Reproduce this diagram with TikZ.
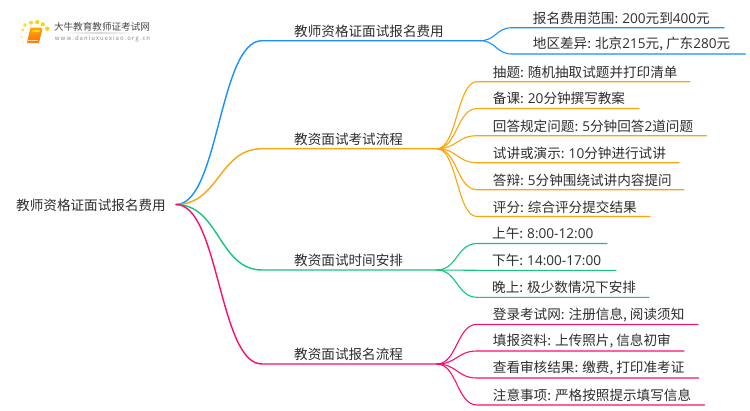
\documentclass[tikz,border=0pt]{standalone}
\usepackage{fontspec}
\setmainfont{Noto Sans CJK SC}
\newfontfamily\latf{Open Sans}
\newcommand{\dg}[1]{{\latf #1}}
\usetikzlibrary{calc}
\definecolor{cblue}{HTML}{1890FF}
\definecolor{corange}{HTML}{FAA50F}
\definecolor{cgreen}{HTML}{17C47C}
\definecolor{cpink}{HTML}{FA0F70}
\definecolor{ctext}{HTML}{2E2E2E}
\tikzset{
  label/.style={anchor=west,inner sep=0pt,text=ctext,font=\fontsize{13.6}{16}\selectfont},
  branch/.style={line width=1.4pt,line cap=round},
  leafline/.style={line width=1.1pt,line cap=round},
}
\begin{document}
\begin{tikzpicture}[x=1pt,y=-1pt]
\useasboundingbox (0,0) rectangle (750,410);
\fill[white] (0,0) rectangle (750,410);
% logo
\foreach \x/\y/\r/\o in {21.7/36.7/1.2/.5,22.7/30/1.6/.7,25/25/1.9/.8,31/22.7/2/.9,37.3/22/2.1/1,42.7/24.3/2/1,47.3/28.7/2.2/1,23.3/42.3/1/.3}
  \fill[yellow!70!orange,opacity=\o] (\x,\y) circle (\r);
\shade[top color=orange!70!yellow,bottom color=orange!90!red,rounded corners=1pt] (30.5,27.5) -- (42,27.5) -- (38.5,42.5) -- (27,42.5) -- cycle;
\fill[orange!40!yellow!90!white] (32.5,30) -- (40,30) -- (39.4,32) -- (32,32) -- cycle;
\draw[orange!30!white,line width=.5pt] (27.5,40.7) -- (38,40.7);
\draw[orange!90!red,line width=.7pt] (27,42.7) -- (38.5,42.7) -- (42,29);
\shade[left color=white,right color=white,middle color=black!15] (62,32.6) rectangle (135,33.4);
\node[inner sep=0pt,anchor=center,text=black!72,font=\fontsize{9.6}{11}\selectfont] (logotitle) at (102,27) {大牛教育教师证考试网};
\node[inner sep=0pt,anchor=center,text=black!45,font=\fontsize{6}{7}\selectfont] (logosub) at (102.5,39) {w\,w\,w\,.\,d\,a\,n\,i\,u\,x\,u\,e\,x\,i\,a\,o\,.\,o\,r\,g\,.\,c\,n};
% root
\node[label] (root) at (16,205.3) {教师资格证面试报名费用};
\coordinate (r) at (176,204.5);
% branches
\foreach \n/\c/\y/\xs/\xe/\t in {
  a/cblue/40.7/262/480/教师资格证面试报名费用,
  b/corange/148.7/262/437/教资面试考试流程,
  c/cgreen/270/262/437/教资面试时间安排,
  d/cpink/364/262/437/教资面试报名流程}{
  \coordinate (\n s) at (\xs,\y);
  \coordinate (\n e) at (\xe,\y);
  \node[label] (\n t) at (294,\y-9.6) {\t};
  \draw[branch,\c] (r) .. controls (219,204.5) and (219,\y) .. (\n s) -- (\n e);
}
% leaves
\foreach \pa/\n/\c/\y/\xs/\xe/\tx/\t in {
  a/1/cblue/27.7/512/724/532.7/报名费用范围: \dg{200}元到\dg{400}元,
  a/2/cblue/54/512/745.6/532.7/{地区差异: 北京\dg{215}元, 广东\dg{280}元},
  b/1/corange/81.7/477/690/492.7/抽题: 随机抽取试题并打印清单,
  b/2/corange/108.5/477/639/492.7/备课: \dg{20}分钟撰写教案,
  b/3/corange/135.7/477/706.5/492.7/回答规定问题: \dg{5}分钟回答\dg{2}道问题,
  b/4/corange/162.7/477/679/492.7/试讲或演示: \dg{10}分钟进行试讲,
  b/5/corange/189.7/477/684/492.7/答辩: \dg{5}分钟围绕试讲内容提问,
  b/6/corange/216.5/477/650/492.7/评分: 综合评分提交结果,
  c/1/cgreen/243.5/477/607/492/上午: \dg{8:00-12:00},
  c/2/cgreen/270.3/477/616/492/下午: \dg{14:00-17:00},
  c/3/cgreen/297.3/477/649/492/晚上: 极少数情况下安排,
  d/1/cpink/324.3/477/698/492.7/{登录考试网: 注册信息, 阅读须知},
  d/2/cpink/351/477/684/492.7/{填报资料: 上传照片, 信息初审},
  d/3/cpink/378/477/698.7/492.7/{查看审核结果: 缴费, 打印准考证},
  d/4/cpink/405/477/704.5/492.7/注意事项: 严格按照提示填写信息}{
  \coordinate (\pa\n s) at (\xs,\y);
  \coordinate (\pa\n e) at (\xe,\y);
  \node[label] (\pa\n t) at (\tx,\y-9.7) {\t};
  \coordinate (m) at ($(\pa e)!.5!(\pa\n s)$);
  \draw[leafline,\c] (\pa e) .. controls (m|-\pa e) and (m|-\pa\n s) .. (\pa\n s) -- (\pa\n e);
}
\end{tikzpicture}
\end{document}
